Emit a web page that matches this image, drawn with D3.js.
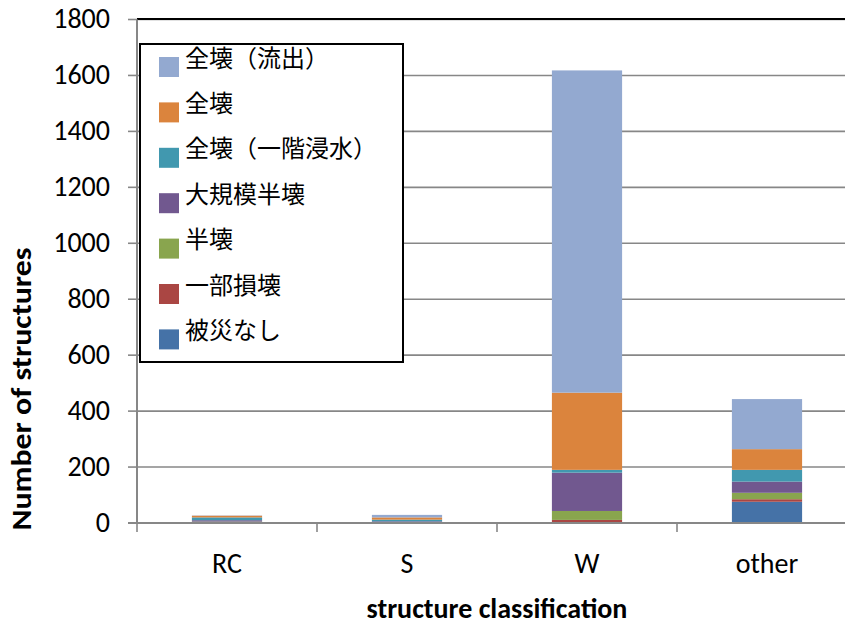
<!DOCTYPE html>
<html>
<head>
<meta charset="utf-8">
<script src="https://cdn.jsdelivr.net/npm/d3@7/dist/d3.min.js"></script>
<style>
  html, body { margin: 0; padding: 0; background: #fff; }
  svg { display: block; }
</style>
</head>
<body>
<svg id="chart" width="845" height="625"></svg>
<script>
// Structure classes along the x axis
const categories = ["RC", "S", "W", "other"];

// Damage levels, stacked from the bottom up
const damageLevels = ["被災なし", "一部損壊", "半壊", "大規模半壊", "全壊（一階浸水）", "全壊", "全壊（流出）"];

// Number of structures per damage level, one value per structure class
const noDamage        = [2, 1, 2, 76];
const partialDamage   = [1, 1, 9, 9];
const halfDestroyed   = [2, 1, 32, 23];
const largeHalf       = [5, 3, 137, 40];
const floodedFirst    = [10, 6, 10, 42];
const destroyed       = [6, 8, 276, 74];
const washedAway      = [1, 9, 1152, 179];

const yTicks = [0, 200, 400, 600, 800, 1000, 1200, 1400, 1600, 1800];

const seriesValues = [noDamage, partialDamage, halfDestroyed, largeHalf, floodedFirst, destroyed, washedAway];
const colors = ["#4572a7", "#aa4643", "#89a54e", "#71588f", "#4198af", "#db843d", "#93a9d0"];

const svg = d3.select("#chart");
const plot = { left: 137, right: 857, top: 19.5, bottom: 523 };

const x = d3.scaleBand().domain(categories).range([plot.left, plot.right]).padding(0);
const y = d3.scaleLinear().domain([0, 1800]).range([plot.bottom, plot.top]);

// Rows for the stack layout
const rows = categories.map((c, i) => {
  const r = { category: c };
  damageLevels.forEach((d, k) => { r[d] = seriesValues[k][i]; });
  return r;
});
const stacked = d3.stack().keys(damageLevels)(rows);

const axisColor = "#878787";
const fontLatin = "Carlito, Lato, 'Open Sans', sans-serif";
const fontCJK = "'Noto Sans CJK JP', 'Noto Sans CJK SC', sans-serif";

// Horizontal gridlines
svg.append("g").selectAll("line").data(yTicks.filter(t => t > 0)).join("line")
  .attr("x1", plot.left).attr("x2", plot.right)
  .attr("y1", d => y(d)).attr("y2", d => y(d))
  .attr("stroke", axisColor).attr("stroke-width", 1.6);

// Top border of the plot area
svg.append("line")
  .attr("x1", plot.left).attr("x2", plot.right)
  .attr("y1", y(1800) - 0.5).attr("y2", y(1800) - 0.5)
  .attr("stroke", "#000").attr("stroke-width", 2);

// Stacked bars
const barFrac = 0.39;
const barW = x.bandwidth() * barFrac;
svg.append("g").selectAll("g").data(stacked).join("g")
  .attr("fill", (d, i) => colors[i])
  .selectAll("rect").data(d => d).join("rect")
  .attr("x", d => x(d.data.category) + (x.bandwidth() - barW) / 2)
  .attr("width", barW)
  .attr("y", d => y(d[1]))
  .attr("height", d => Math.max(0, y(d[0]) - y(d[1])));

// Y axis
const yAxis = svg.append("g");
yAxis.append("line")
  .attr("x1", plot.left).attr("x2", plot.left)
  .attr("y1", plot.top).attr("y2", plot.bottom)
  .attr("stroke", axisColor).attr("stroke-width", 2);
yAxis.selectAll(".tick").data(yTicks).join("line")
  .attr("x1", plot.left - 9).attr("x2", plot.left)
  .attr("y1", d => y(d)).attr("y2", d => y(d))
  .attr("stroke", axisColor).attr("stroke-width", 1.6);
yAxis.selectAll("text").data(yTicks).join("text")
  .attr("x", 110).attr("y", d => y(d) + 2)
  .attr("text-anchor", "end").attr("dominant-baseline", "middle")
  .attr("font-family", fontLatin).attr("font-size", 28).attr("fill", "#000")
  .text(d => d);

// X axis
const xAxis = svg.append("g");
xAxis.append("line")
  .attr("x1", plot.left - 9).attr("x2", plot.right)
  .attr("y1", plot.bottom).attr("y2", plot.bottom)
  .attr("stroke", axisColor).attr("stroke-width", 2);
xAxis.selectAll(".tick").data(categories).join("line")
  .attr("x1", d => x(d)).attr("x2", d => x(d))
  .attr("y1", plot.bottom).attr("y2", plot.bottom + 9)
  .attr("stroke", axisColor).attr("stroke-width", 1.6);
xAxis.selectAll("text").data(categories).join("text")
  .attr("x", d => x(d) + x.bandwidth() / 2).attr("y", 566)
  .attr("text-anchor", "middle").attr("dominant-baseline", "middle")
  .attr("font-family", fontLatin).attr("font-size", 28).attr("fill", "#000")
  .text(d => d);

// Axis titles
svg.append("text")
  .attr("x", (plot.left + plot.right - 0) / 2 - 0).attr("y", 611)
  .attr("text-anchor", "middle").attr("dominant-baseline", "middle")
  .attr("font-family", fontLatin).attr("font-size", 28).attr("font-weight", "bold")
  .text("structure classification");
svg.append("text")
  .attr("transform", "translate(24,389) rotate(-90)")
  .attr("text-anchor", "middle").attr("dominant-baseline", "middle")
  .attr("font-family", fontLatin).attr("font-size", 28).attr("font-weight", "bold")
  .attr("textLength", 283).attr("lengthAdjust", "spacingAndGlyphs")
  .text("Number of structures");

// Legend (top entry is the top of the stack)
const legend = svg.append("g");
legend.append("rect")
  .attr("x", 140).attr("y", 44).attr("width", 263).attr("height", 318)
  .attr("fill", "#fff").attr("stroke", "#000").attr("stroke-width", 2);
const legendOrder = damageLevels.map((d, i) => ({ name: d, color: colors[i] })).reverse();
const item = legend.selectAll("g.item").data(legendOrder).join("g")
  .attr("transform", (d, i) => `translate(159, ${67 + i * 45.4})`);
item.append("rect")
  .attr("x", 0).attr("y", -10).attr("width", 20).attr("height", 20)
  .attr("fill", d => d.color);
item.append("text")
  .attr("x", 26).attr("y", -7)
  .attr("dominant-baseline", "middle")
  .attr("font-family", fontCJK).attr("font-size", 24).attr("fill", "#000")
  .text(d => d.name);
</script>
</body>
</html>
